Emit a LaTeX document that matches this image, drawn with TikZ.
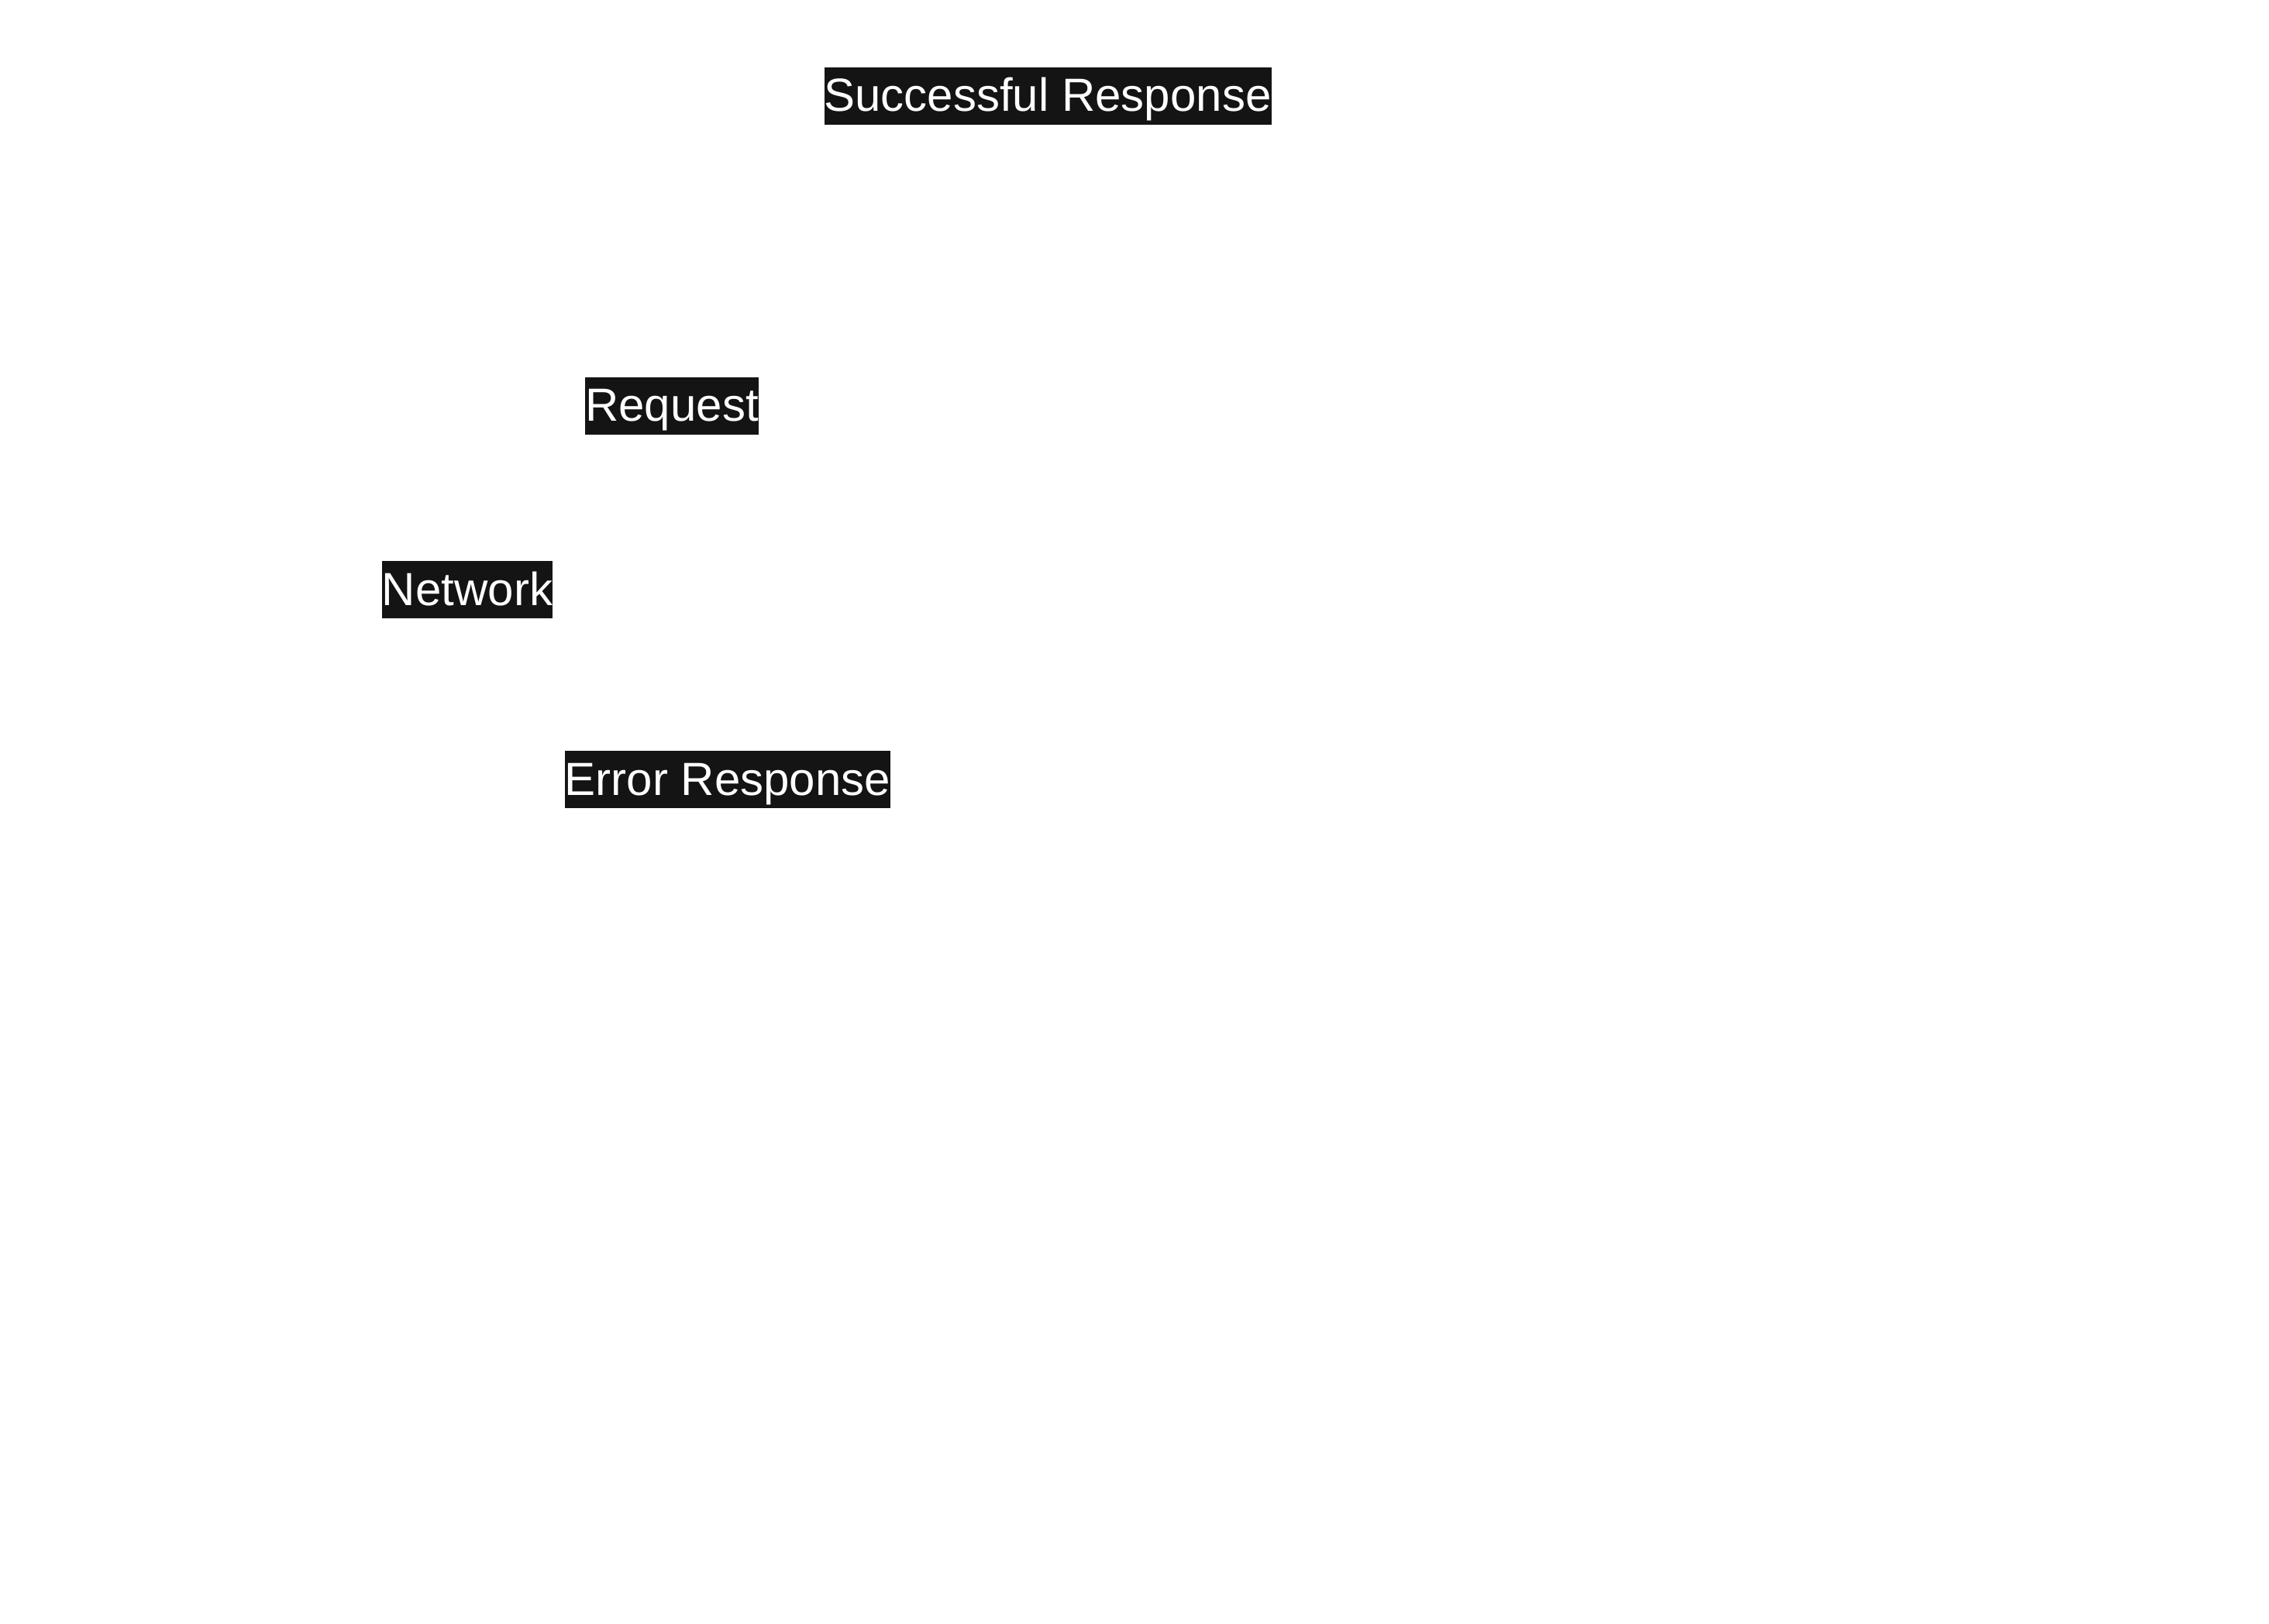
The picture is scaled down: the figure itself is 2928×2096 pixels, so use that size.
\documentclass[tikz,border=0pt]{standalone}
\usepackage{fontspec}
\setmainfont{Liberation Sans}
\definecolor{labelbg}{HTML}{141414}
\tikzset{
  lbl/.style={fill=labelbg, text=white, inner xsep=0pt, inner ysep=1.5pt,
    text height=27pt, text depth=7pt, font=\fontsize{30pt}{34pt}\selectfont}
}
\begin{document}
\begin{tikzpicture}[x=0.5pt,y=-0.5pt]
\useasboundingbox (0,0) rectangle (2928,2096);
\fill[white] (0,0) rectangle (2928,2096);
\node[lbl] (succ) at (1352,124) {Successful Response};
\node[lbl] (req) at (867,524) {Request};
\node[lbl] (net) at (603,761) {Network};
\node[lbl] (err) at (939,1006) {Error Response};
\end{tikzpicture}
\end{document}
